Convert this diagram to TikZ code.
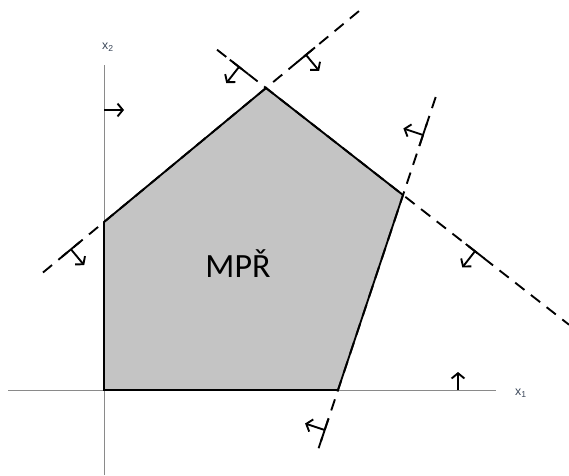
\documentclass[tikz,border=0pt]{standalone}
\usepackage{fontspec}
\newfontfamily\labelfont{Carlito}
\newfontfamily\axisfont{Liberation Sans}
\usetikzlibrary{arrows.meta,calc}
\definecolor{regiongray}{HTML}{C4C4C4}
\definecolor{axisgray}{HTML}{8A8A8A}
\definecolor{labelgray}{HTML}{3A4658}

\begin{document}
\begin{tikzpicture}[
  x=0.03cm, y=-0.03cm,
  axis/.style={draw=axisgray, line width=0.8pt},
  bound/.style={line width=1.6pt, dash pattern=on 10pt off 7pt},
  edge/.style={line width=1.6pt, line join=miter},
  bar/.style={line width=1.6pt},
  dir/.style={-{Straight Barb[length=4.5pt,width=11pt]}, line width=1.6pt},
  lbl/.style={font=\axisfont\fontsize{10.5}{12}\selectfont, text=labelgray}
]
  \useasboundingbox (0,0) rectangle (569,475);
  % vertices of the region
  \coordinate (A) at (104,390);
  \coordinate (B) at (104,222);
  \coordinate (C) at (266,88);
  \coordinate (D) at (403,195);
  \coordinate (E) at (338,390);
  \fill[regiongray] (A) -- (B) -- (C) -- (D) -- (E) -- cycle;

  % axes
  \coordinate (x1s) at (8,390);
  \coordinate (x1e) at (496,390);
  \coordinate (x2s) at (104,475);
  \coordinate (x2e) at (104,65);
  \draw[axis] (x1s) -- (x1e);
  \draw[axis] (x2s) -- (x2e);
  \node[lbl] (x1) at (521,393) {x\textsubscript{1}};
  \node[lbl] (x2) at (108,47) {x\textsubscript{2}};

  % boundary lines
  \coordinate (bc1) at (43,272.5);
  \coordinate (bc2) at (360,10.2);
  \coordinate (cd1) at (217,49.7);
  \coordinate (cd2) at (569,324.7);
  \coordinate (de1) at (435.7,97);
  \coordinate (de2) at (317,453);
  \draw[bound] (bc1) -- (bc2);
  \draw[bound] (cd1) -- (cd2);
  \draw[bound] (de1) -- (de2);
  \draw[edge] (A) -- (B) -- (C) -- (D) -- (E) -- cycle;

  \node[font=\labelfont\fontsize{29}{32}\selectfont] (mpr) at (238,264) {MPŘ};

  % half-plane markers
  \coordinate (m1) at (71,249.3);
  \coordinate (m2) at (306,54.9);
  \coordinate (m3) at (239,66.9);
  \coordinate (m4) at (475,251.2);
  \coordinate (m5) at (423,135);
  \coordinate (m6) at (324.7,430);
  \foreach \m/\t/\a in {m1/C/-90, m2/C/90, m3/D/-90, m4/D/90, m5/D/-90, m6/E/90} {
    \draw[bar] ($(\m)!0.35cm!(\t)$) -- ($(\m)!-0.35cm!(\t)$);
    \draw[dir] (\m) -- ($(\m)!0.62cm!\a:(\t)$);
  }
  \coordinate (p1) at (458,390);
  \coordinate (q1) at (458,372);
  \coordinate (p2) at (104,110);
  \coordinate (q2) at (124,110);
  \draw[dir] (p1) -- (q1);
  \draw[dir] (p2) -- (q2);
\end{tikzpicture}
\end{document}
